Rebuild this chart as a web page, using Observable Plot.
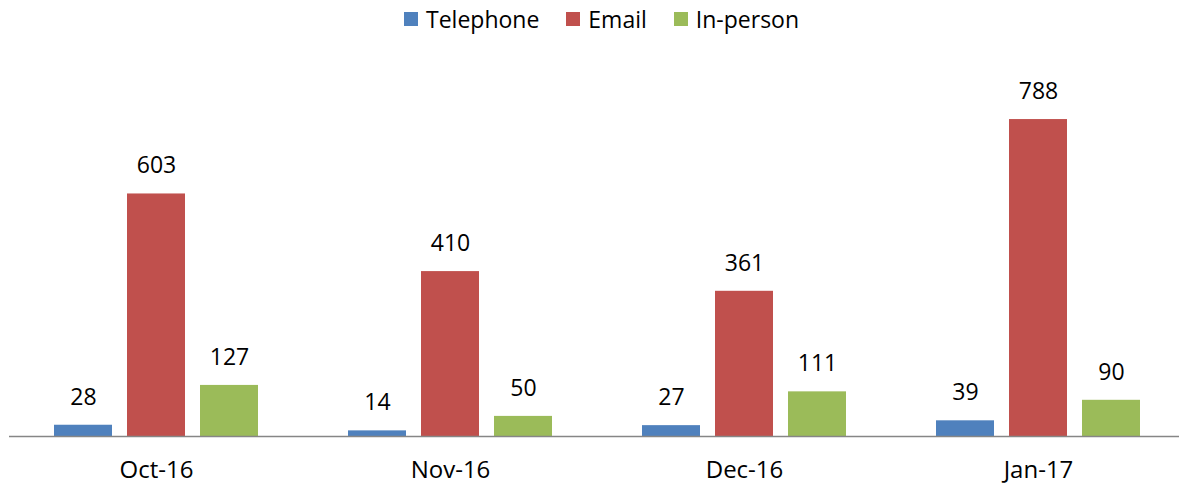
<!DOCTYPE html>
<html><head><meta charset="utf-8">
<script src="https://cdn.jsdelivr.net/npm/d3@7"></script>
<script src="https://cdn.jsdelivr.net/npm/@observablehq/plot@0.6"></script>
<style>
body{margin:0;background:#fff;font-family:"Open Sans",sans-serif;overflow:hidden;}
#wrap{position:relative;width:1179px;height:484px;overflow:hidden;}
#legend{position:absolute;top:3px;left:404px;display:flex;align-items:center;font-size:23px;color:#000;white-space:nowrap;}
.item{display:flex;align-items:center;margin-right:27px;}
.sw{width:14px;height:14px;margin-right:8px;}
#wrap svg{max-width:none !important;}
</style></head>
<body><div id="wrap"><div id="legend"></div></div>
<script>
const months = ["Oct-16", "Nov-16", "Dec-16", "Jan-17"];
const series = ["Telephone", "Email", "In-person"];
const colors = ["#4F81BD", "#C0504D", "#9BBB59"];
const telephone = [28, 14, 27, 39];
const email = [603, 410, 361, 788];
const inPerson = [127, 50, 111, 90];

const seriesValues = [telephone, email, inPerson];
const rows = [];
months.forEach((m, i) => series.forEach((s, j) => rows.push({month: m, series: s, value: seriesValues[j][i]})));

const legend = document.getElementById("legend");
series.forEach((s, j) => {
  const it = document.createElement("div");
  it.className = "item";
  it.innerHTML = `<div class="sw" style="background:${colors[j]}"></div><span>${s}</span>`;
  legend.appendChild(it);
});

const chart = Plot.plot({
  width: 1185,
  height: 484,
  marginLeft: 8,
  marginRight: 0,
  marginTop: 74,
  marginBottom: 48,
  style: {fontFamily: "Open Sans", fontSize: "23px", color: "#000", background: "#fff", maxWidth: "none"},
  fx: {domain: months, padding: 0, label: null, axis: null},
  x: {domain: series, paddingInner: 0.2, paddingOuter: 0.59, axis: null},
  y: {domain: [0, 900], axis: null},
  color: {domain: series, range: colors},
  marks: [
    Plot.axisFx({anchor: "bottom", tickSize: 0, tickPadding: 24, fontSize: 24, label: null}),
    Plot.barY(rows, {fx: "month", x: "series", y: "value", fill: "series"}),
    Plot.text(rows, {fx: "month", x: "series", y: "value", text: d => String(d.value), dy: -28, fontSize: 23, fill: "#000", lineAnchor: "middle"}),
    Plot.ruleY([0], {stroke: "#868686", strokeWidth: 1.5})
  ]
});
document.getElementById("wrap").appendChild(chart);
</script>
</body></html>
